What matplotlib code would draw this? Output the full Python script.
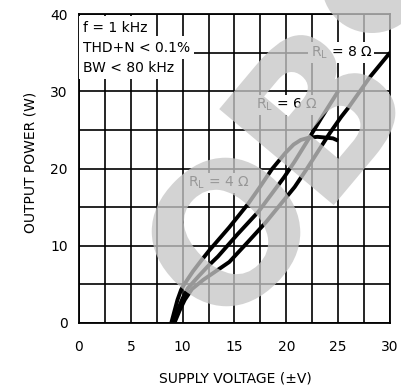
import numpy as np
import matplotlib
matplotlib.use('Agg')
import matplotlib.pyplot as plt
from matplotlib.textpath import TextPath
from matplotlib.font_manager import FontProperties
from matplotlib.patches import PathPatch, Ellipse
from matplotlib.transforms import Affine2D, IdentityTransform

# output power vs supply voltage, THD+N < 0.1 %
volts_4 = [8.9, 9.5, 9.85, 10.1, 11.0, 11.8, 12.6, 14.5, 16.3, 17.5, 18.6, 19.9,
           20.7, 21.4, 22.2, 23.0, 23.8, 24.5, 25.0]
watts_4 = [0, 3.0, 4.3, 4.9, 6.7, 8.1, 9.45, 12.4, 15.4, 17.7, 19.9, 22.0,
           23.1, 23.7, 24.0, 24.1, 24.0, 23.9, 23.6]

volts_6 = [9.05, 9.5, 10.0, 10.5, 11.5, 12.4, 13.4, 15.3, 17.3, 19.8, 20.8, 22.0, 23.4, 25.0]
watts_6 = [0, 1.6, 3.2, 4.5, 6.0, 7.3, 8.6, 11.5, 14.4, 18.9, 20.9, 23.5, 26.6, 30.0]

volts_8 = [9.2, 9.7, 10.2, 10.9, 12.0, 13.2, 14.5, 16.3, 18.0, 20.8, 22.0, 24.2,
           25.3, 26.0, 28.1, 30.0]
watts_8 = [0, 1.6, 3.0, 4.4, 5.6, 6.7, 7.9, 10.5, 13.0, 17.6, 20.0, 24.6,
           26.7, 27.9, 31.9, 35.0]

load_labels = ['R$_\\mathregular{L}$ = 4 Ω', 'R$_\\mathregular{L}$ = 6 Ω', 'R$_\\mathregular{L}$ = 8 Ω']
label_pos = [(13.5, 18.1), (20.0, 28.2), (25.3, 35.0)]

conditions = ['f = 1 kHz', 'THD+N < 0.1%', 'BW < 80 kHz']
x_ticks = [0, 5, 10, 15, 20, 25, 30]
y_ticks = [0, 10, 20, 30, 40]

plt.rcParams['font.family'] = 'DejaVu Sans'

fig = plt.figure(figsize=(4.02, 3.92), dpi=100)
ax = fig.add_axes([79 / 402, 69 / 392, 311 / 402, 309 / 392])
ax.set_xlim(0, 30)
ax.set_ylim(0, 40)
ax.set_xticks(x_ticks)
ax.set_yticks(y_ticks)
ax.set_xticks(np.arange(0, 30.1, 2.5), minor=True)
ax.set_yticks(np.arange(0, 40.1, 5), minor=True)
ax.grid(which='both', color='black', lw=1.2)
ax.tick_params(which='both', length=0, labelsize=10)
ax.tick_params(axis='x', pad=12)
ax.tick_params(axis='y', pad=8)
for s in ax.spines.values():
    s.set_linewidth(1.3)

for v, p in [(volts_4, watts_4), (volts_6, watts_6), (volts_8, watts_8)]:
    ax.plot(v, p, color='black', lw=2.8, solid_capstyle='butt', zorder=3)

# test conditions, each line on its own white patch
for i, line in enumerate(conditions):
    ax.text(0.39, 38.25 - i * 2.6, line, fontsize=10, va='center', ha='left', zorder=4,
            bbox=dict(boxstyle='square,pad=0.3', fc='white', ec='none'))

for lab, (x, y) in zip(load_labels, label_pos):
    ax.text(x, y, lab, fontsize=10, ha='center', va='center', zorder=4,
            bbox=dict(boxstyle='square,pad=0.15', fc='white', ec='none'))

fig.text(235 / 402, 1 - 378 / 392, 'SUPPLY VOLTAGE (±V)', fontsize=10, ha='center', va='center')
fig.text(31 / 402, 1 - 162 / 392, 'OUTPUT POWER (W)', fontsize=10, ha='center', va='center',
         rotation=90)

# grey watermark letters over the plot
wm_font = FontProperties(family='DejaVu Sans', weight='bold')
wm_color = (0.776, 0.776, 0.776, 0.77)


def watermark(ch, cx, cy, size, angle):
    tp = TextPath((0, 0), ch, size=size, prop=wm_font)
    ext = tp.get_extents()
    tr = (Affine2D().translate(-(ext.x0 + ext.x1) / 2, -(ext.y0 + ext.y1) / 2)
          .rotate_deg(angle).translate(cx, 392 - cy))
    patch = PathPatch(tr.transform_path(tp), transform=IdentityTransform(),
                      fc=wm_color, ec='none', zorder=10, clip_on=False)
    ax.add_patch(patch)


watermark('O', 226, 232, 190, 45)
watermark('B', 316, 110, 205, 50)
ax.add_patch(Ellipse((372, 392 + 15), 100, 96, transform=IdentityTransform(),
                     fc=wm_color, ec='none', zorder=10, clip_on=False))

fig.savefig('out.png', dpi=100)
